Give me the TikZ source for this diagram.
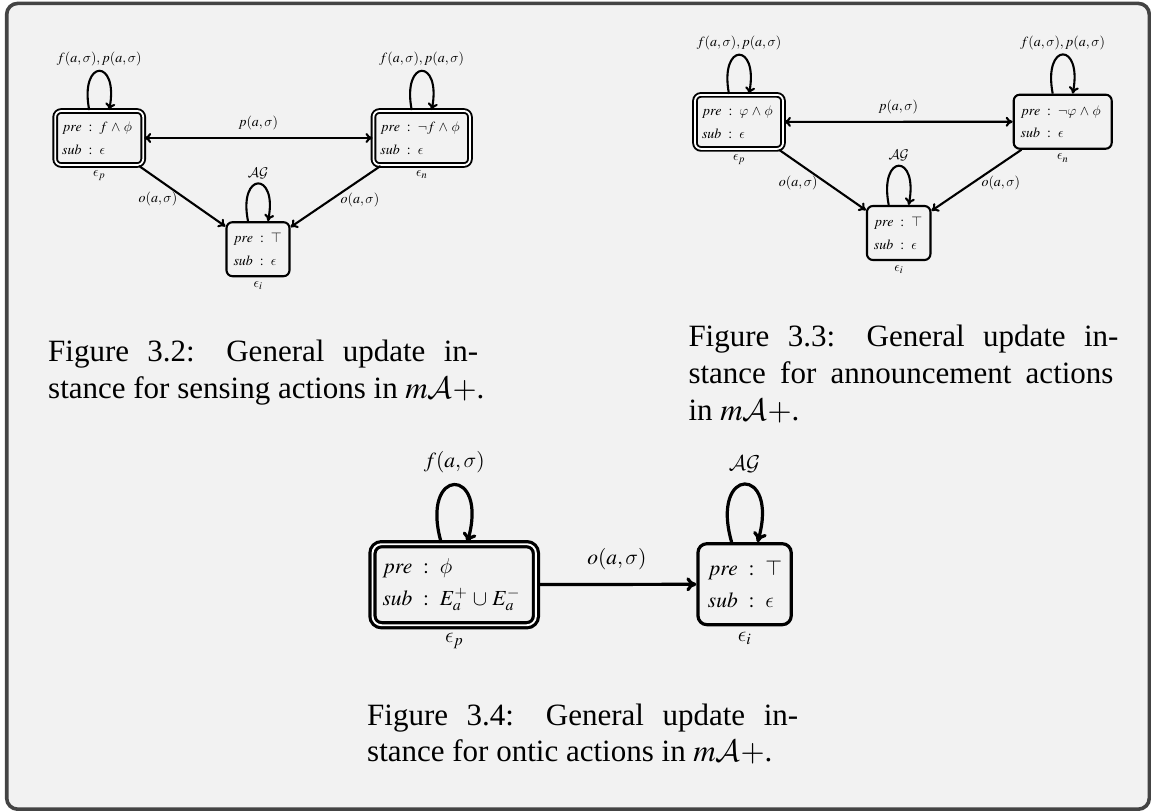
\RequirePackage{fix-cm}
\documentclass[tikz,border=0pt]{standalone}
\usepackage{mathptmx}
\usepackage[no-math]{fontspec}
\setmainfont{Liberation Serif}
\DeclareMathAlphabet{\mathcal}{OMS}{cmsy}{m}{n}
\DeclareSymbolFont{cmlet}{OML}{cmm}{m}{it}
\DeclareMathSymbol{\sigma}{\mathord}{cmlet}{"1B}
\DeclareMathSymbol{\phi}{\mathord}{cmlet}{"1E}
\DeclareMathSymbol{\varphi}{\mathord}{cmlet}{"27}
\DeclareMathSymbol{\epsilon}{\mathord}{cmlet}{"0F}
\thickmuskip=9mu
\medmuskip=4.5mu
\newcommand{\nodetxt}[2]{\mbox{$#1$}\\\mbox{$#2$}}
\usetikzlibrary{arrows.meta}
\definecolor{bgc}{HTML}{F2F2F2}
\definecolor{framec}{HTML}{444444}
\tikzset{
  outerframe/.style={draw=framec, fill=bgc, line width=3.6pt, rounded corners=11pt},
  fA/.style={font=\fontsize{14}{22.7}\selectfont},
  fB/.style={font=\fontsize{21.5}{32}\selectfont},
  stA/.style={fA, draw, line width=2.1pt, rounded corners=6pt, align=left,
    inner xsep=7pt, inner ysep=0pt, minimum height=54pt, label distance=2pt},
  stB/.style={fB, draw, line width=3.2pt, rounded corners=9pt, align=left,
    inner xsep=10pt, inner ysep=0pt, minimum height=81pt, label distance=4pt},
  dblA/.style={double=white, double distance=1.8pt, line width=1.9pt},
  dblB/.style={double=white, double distance=1.9pt, line width=3.2pt},
  labA/.style={fA, inner sep=4pt},
  labB/.style={fB, inner sep=6pt},
  arrA/.style={line width=2.1pt, >={Computer Modern Rightarrow[length=7pt,width=10pt]}},
  arrB/.style={line width=3.2pt, >={Computer Modern Rightarrow[length=10pt,width=14pt]}},
  captxt/.style={font=\fontsize{31}{36.5}\selectfont, inner sep=0pt, anchor=base west},
}
\begin{document}
\begin{tikzpicture}[x=1pt,y=-1pt]
\useasboundingbox (0,0) rectangle (1151,811);
\draw[outerframe] (6.7,3.4) rectangle (1149.3,809.2);

% ---------- Figure 3.2 ----------
\node[stA,dblA,text width=74pt,label={[labA]below:$\epsilon_p$}] (a1) at (99.2,138)
  {\nodetxt{pre : f \land \phi}{sub : \epsilon}};
\node[stA,dblA,text width=82.5pt,label={[labA]below:$\epsilon_n$}] (a2) at (421.7,138)
  {\nodetxt{pre : \neg f \land \phi}{sub : \epsilon}};
\node[stA,text width=49pt,label={[labA]below:$\epsilon_i$}] (a3) at (258,249.2)
  {\nodetxt{pre : \top}{sub : \epsilon}};
\draw[arrA,<->] (a1) -- node[labA,midway,above,yshift=3pt]{$p(a,\sigma)$} (a2);
\draw[arrA,->] (a1) -- node[labA,midway,left,yshift=-3pt]{$o(a,\sigma)$} (a3);
\draw[arrA,->] (a2) -- node[labA,midway,right,yshift=-3pt]{$o(a,\sigma)$} (a3);
\draw[arrA,->] ([xshift=-10pt]a1.north) .. controls +(-10,-52) and +(10,-52) .. ([xshift=10pt]a1.north)
  node[labA,pos=0.5,above]{$f(a,\sigma), p(a,\sigma)$};
\draw[arrA,->] ([xshift=-10pt]a2.north) .. controls +(-10,-52) and +(10,-52) .. ([xshift=10pt]a2.north)
  node[labA,pos=0.5,above]{$f(a,\sigma), p(a,\sigma)$};
\draw[arrA,->] ([xshift=-10pt]a3.north) .. controls +(-10,-50) and +(10,-50) .. ([xshift=10pt]a3.north)
  node[labA,pos=0.5,above]{$\mathcal{A}\mathcal{G}$};

% ---------- Figure 3.3 ----------
\node[stA,dblA,text width=74pt,label={[labA]below:$\epsilon_p$}] (b1) at (739,121.9)
  {\nodetxt{pre : \varphi \land \phi}{sub : \epsilon}};
\node[stA,text width=84pt,label={[labA]below:$\epsilon_n$}] (b2) at (1062.7,121.7)
  {\nodetxt{pre : \neg\varphi \land \phi}{sub : \epsilon}};
\node[stA,text width=49.5pt,label={[labA]below:$\epsilon_i$}] (b3) at (898.7,233)
  {\nodetxt{pre : \top}{sub : \epsilon}};
\draw[arrA,<->] (b1) -- node[labA,midway,above,yshift=3pt]{$p(a,\sigma)$} (b2);
\draw[arrA,->] (b1) -- node[labA,midway,left,yshift=-3pt]{$o(a,\sigma)$} (b3);
\draw[arrA,->] (b2) -- node[labA,midway,right,yshift=-3pt]{$o(a,\sigma)$} (b3);
\draw[arrA,->] ([xshift=-10pt]b1.north) .. controls +(-10,-52) and +(10,-52) .. ([xshift=10pt]b1.north)
  node[labA,pos=0.5,above]{$f(a,\sigma), p(a,\sigma)$};
\draw[arrA,->] ([xshift=-10pt]b2.north) .. controls +(-10,-52) and +(10,-52) .. ([xshift=10pt]b2.north)
  node[labA,pos=0.5,above]{$f(a,\sigma), p(a,\sigma)$};
\draw[arrA,->] ([xshift=-10pt]b3.north) .. controls +(-10,-52) and +(10,-52) .. ([xshift=10pt]b3.north)
  node[labA,pos=0.5,above]{$\mathcal{A}\mathcal{G}$};

% ---------- Figure 3.4 ----------
\node[stB,dblB,text width=143.4pt,label={[labB]below:$\epsilon_p$}] (c1) at (454.2,584.7)
  {\nodetxt{pre : \phi}{sub : E^+_a \cup E^-_a}};
\node[stB,text width=73.3pt,label={[labB]below:$\epsilon_i$}] (c2) at (744.6,584.2)
  {\nodetxt{pre : \top}{sub : \epsilon}};
\draw[arrB,->] (c1) -- node[labB,midway,above,yshift=7pt]{$o(a,\sigma)$} (c2);
\draw[arrB,->] ([xshift=-13pt]c1.north) .. controls +(-22,-77) and +(22,-77) .. ([xshift=13pt]c1.north)
  node[labB,pos=0.5,above,yshift=4pt]{$f(a,\sigma)$};
\draw[arrB,->] ([xshift=-13pt]c2.north) .. controls +(-22,-77) and +(22,-77) .. ([xshift=13pt]c2.north)
  node[labB,pos=0.5,above,yshift=4pt]{$\mathcal{A}\mathcal{G}$};

% ---------- Captions ----------
\node[captxt] (cap2a) at (48,361.7) {\makebox[430pt][s]{Figure 3.2: General update in-}};
\node[captxt] (cap2b) at (48,398.3) {stance for sensing actions in $m\mathcal{A}+$.};
\node[captxt] (cap3a) at (688.3,346.7) {\makebox[430pt][s]{Figure 3.3: General update in-}};
\node[captxt] (cap3b) at (688.3,383.3) {\makebox[425pt][s]{stance for announcement actions}};
\node[captxt] (cap3c) at (688.3,420) {in $m\mathcal{A}+$.};
\node[captxt] (cap4a) at (367,725) {\makebox[431pt][s]{Figure 3.4: General update in-}};
\node[captxt] (cap4b) at (367,761.7) {stance for ontic actions in $m\mathcal{A}+$.};
\end{tikzpicture}
\end{document}
